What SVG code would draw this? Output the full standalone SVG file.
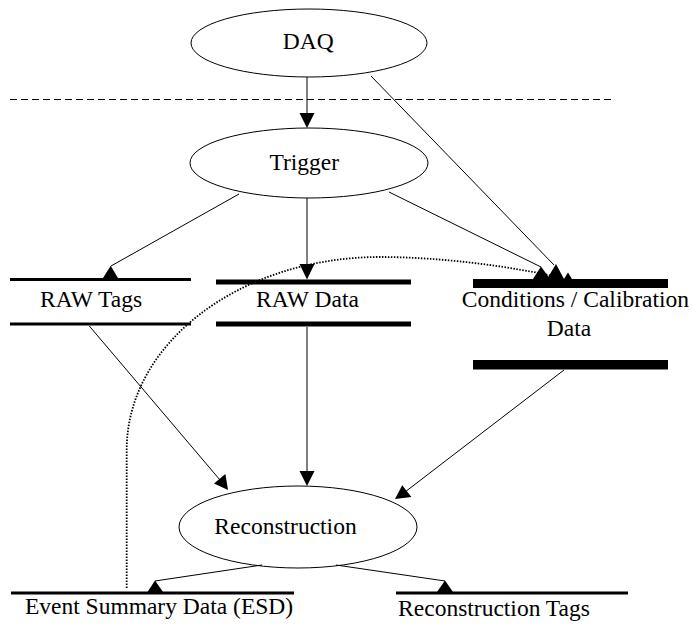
<svg xmlns="http://www.w3.org/2000/svg" width="693" height="636" viewBox="0 0 693 636">
<style>
  .bg{fill:#fff}
  .node{fill:#fff;stroke:#000;stroke-width:1}
  .bar{fill:#000}
  .lbl{font-family:'Liberation Serif','Times New Roman',serif;font-size:23.5px;fill:#000;text-anchor:middle}
  .edge{fill:none;stroke:#000;stroke-width:1}
  .dot{fill:none;stroke:#000;stroke-width:1.8;stroke-dasharray:1.5 1.5}
  .dash{fill:none;stroke:#000;stroke-width:1;stroke-dasharray:7 4}
  .head{fill:#000;stroke:none}
</style>
<rect class="bg" x="0" y="0" width="693" height="636"/>
<g id="divider"><line class="dash" x1="10" y1="99.5" x2="612" y2="99.5"/></g>

<g id="daq">
  <ellipse class="node" cx="309" cy="43" rx="118" ry="34"/>
  <text class="lbl" x="308.3" y="49">DAQ</text>
</g>
<g id="trigger">
  <ellipse class="node" cx="309" cy="163" rx="119" ry="35"/>
  <text class="lbl" x="304.3" y="170">Trigger</text>
</g>
<g id="raw-tags">
  <rect class="bar" x="10" y="278" width="181" height="3"/>
  <rect class="bar" x="10" y="322.5" width="181" height="3"/>
  <text class="lbl" x="91.1" y="307">RAW Tags</text>
</g>
<g id="raw-data">
  <rect class="bar" x="216" y="279.5" width="195" height="5"/>
  <rect class="bar" x="216" y="321.5" width="195" height="5"/>
  <text class="lbl" x="307.5" y="307">RAW Data</text>
</g>
<g id="conditions">
  <rect class="bar" x="473" y="279" width="195" height="9"/>
  <rect class="bar" x="473" y="360" width="195" height="9.5"/>
  <text class="lbl" x="575.4" y="307">Conditions / Calibration</text>
  <text class="lbl" x="569" y="336">Data</text>
</g>
<g id="reconstruction">
  <ellipse class="node" cx="298" cy="527" rx="119" ry="41"/>
  <text class="lbl" x="285.5" y="534">Reconstruction</text>
</g>
<g id="esd">
  <rect class="bar" x="11" y="591.5" width="283" height="3"/>
  <text class="lbl" x="159" y="614">Event Summary Data (ESD)</text>
</g>
<g id="reco-tags">
  <rect class="bar" x="396" y="591.5" width="232" height="3"/>
  <text class="lbl" x="494" y="616">Reconstruction Tags</text>
</g>

<g id="connectors">
  <!-- DAQ -> Trigger -->
  <line class="edge" x1="307" y1="77" x2="307" y2="115"/>
  <polygon class="head" points="307,128 299.5,113 314.5,113"/>
  <!-- DAQ -> Conditions -->
  <line class="edge" x1="371" y1="76" x2="554" y2="265"/>
  <polygon class="head" points="556,264 547,279 564,279"/>
  <!-- Trigger -> RAW Tags -->
  <line class="edge" x1="239" y1="194" x2="111" y2="266"/>
  <polygon class="head" points="110.7,265.7 102.7,278.5 118.3,278.5"/>
  <!-- Trigger -> RAW Data -->
  <line class="edge" x1="307" y1="198" x2="307" y2="266"/>
  <polygon class="head" points="307,279.5 299.5,264 314.5,264"/>
  <!-- Trigger -> Conditions -->
  <line class="edge" x1="389" y1="192" x2="541" y2="267"/>
  <polygon class="head" points="541,266.5 533,279 550,279"/>
  <!-- ESD -> Conditions (dotted) -->
  <path class="dot" d="M126.7,588 L126.7,450 C126.7,342.75 240.9,257 380,257 C440,257 510,266 562,278"/>
  <polygon class="head" points="568,272.5 564,279 572,279"/>
  <!-- RAW Tags -> Reconstruction -->
  <line class="edge" x1="89.3" y1="326" x2="220" y2="480"/>
  <polygon class="head" points="228,490 214,483.6 225.4,473.9"/>
  <!-- RAW Data -> Reconstruction -->
  <line class="edge" x1="307" y1="327" x2="307" y2="474"/>
  <polygon class="head" points="307,486 299.5,471 314.5,471"/>
  <!-- Conditions -> Reconstruction -->
  <line class="edge" x1="564" y1="370" x2="405" y2="492"/>
  <polygon class="head" points="395,499 402.2,485.2 411.4,497.1"/>
  <!-- Reconstruction -> ESD -->
  <line class="edge" x1="262" y1="565" x2="155" y2="581"/>
  <polygon class="head" points="155,580.5 147.5,592 163,592"/>
  <!-- Reconstruction -> Reconstruction Tags -->
  <line class="edge" x1="336" y1="565" x2="445" y2="581"/>
  <polygon class="head" points="445,580.5 437,592 453,592"/>
</g>
</svg>
